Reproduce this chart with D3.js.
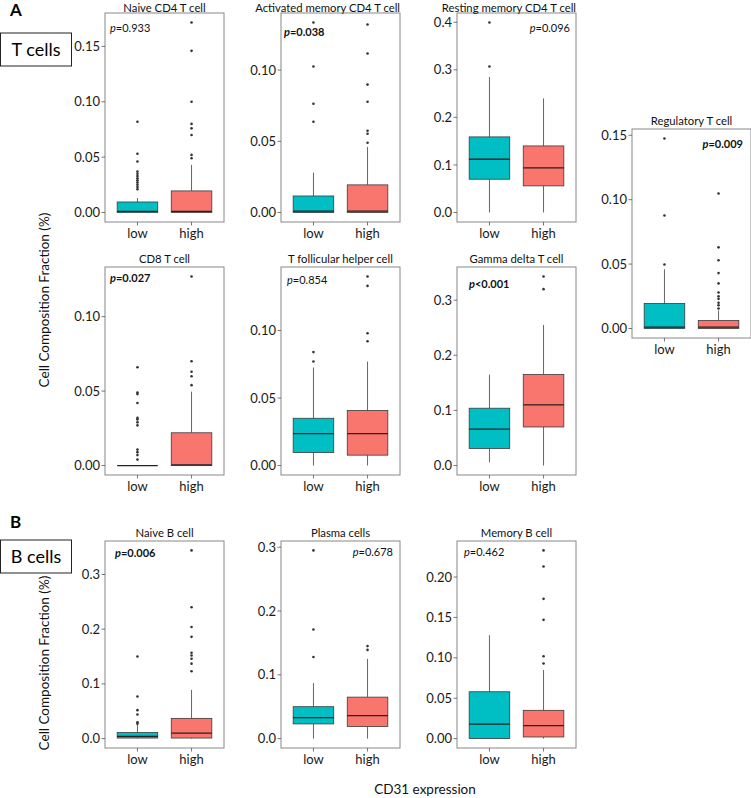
<!DOCTYPE html>
<html><head><meta charset="utf-8">
<script src="https://cdn.jsdelivr.net/npm/d3@7"></script>
<style>body{margin:0;background:#fff}svg{display:block}</style>
</head><body><svg id="c" width="751" height="798"></svg>
<script>
// ---------------- DATA ----------------
const panelTitles = ["Naive CD4 T cell","Activated memory CD4 T cell","Resting memory CD4 T cell","Regulatory T cell",
  "CD8 T cell","T follicular helper cell","Gamma delta T cell","Naive B cell","Plasma cells","Memory B cell"];
const groups = ["low","high"];
const pValues = ["=0.933","=0.038","=0.096","=0.009","=0.027","=0.854","<0.001","=0.006","=0.678","=0.462"];
const pSignificant = [false,true,false,true,true,false,true,true,false,false];
// box statistics: [whisker low, Q1, median, Q3, whisker high]
const lowBox = [
  [0,0,0.001,0.0095,0.013],
  [0,0,0.001,0.0116,0.028],
  [0,0.070,0.112,0.159,0.285],
  [0,0,0.001,0.0194,0.046],
  [0,0,0,0,0],
  [0,0.0096,0.0237,0.035,0.0726],
  [0.006,0.031,0.066,0.104,0.165],
  [0,0.001,0.004,0.011,0.026],
  [0,0.023,0.033,0.050,0.087],
  [0,0,0.018,0.058,0.128]
];
const highBox = [
  [0,0,0.001,0.0195,0.043],
  [0,0,0.001,0.0194,0.046],
  [0,0.056,0.094,0.140,0.240],
  [0,0,0.001,0.0062,0.014],
  [0,0,0.0005,0.022,0.0497],
  [0,0.0077,0.0237,0.0407,0.077],
  [0,0.070,0.110,0.165,0.255],
  [0,0.001,0.010,0.037,0.089],
  [0,0.019,0.036,0.065,0.125],
  [0,0.002,0.016,0.035,0.085]
];
const lowOutliers = [
  [0.082,0.053,0.046,0.037,0.035,0.033,0.031,0.029,0.027,0.025,0.023,0.021],
  [0.1334,0.1025,0.0764,0.0637],
  [0.3996,0.307],
  [0.1475,0.0877,0.0497],
  [0.066,0.049,0.048,0.042,0.032,0.031,0.029,0.027,0.0107,0.009,0.007,0.004],
  [0.084,0.077],
  [],
  [0.150,0.077,0.052,0.044,0.030,0.027],
  [0.295,0.171,0.128],
  []
];
const highOutliers = [
  [0.1716,0.146,0.100,0.080,0.076,0.070,0.052,0.049],
  [0.132,0.1116,0.0898,0.0778,0.0574,0.0553,0.049],
  [],
  [0.1048,0.063,0.053,0.043,0.035,0.028,0.025,0.023,0.020,0.018,0.0155],
  [0.127,0.070,0.063,0.060,0.054],
  [0.140,0.133,0.098,0.092],
  [0.343,0.320],
  [0.344,0.240,0.204,0.186,0.157,0.152,0.146,0.137,0.123],
  [0.145,0.139],
  [0.233,0.213,0.173,0.147,0.102,0.093]
];
const yTickValues = [
  [0,0.05,0.10,0.15],[0,0.05,0.10],[0,0.1,0.2,0.3,0.4],[0,0.05,0.10,0.15],
  [0,0.05,0.10],[0,0.05,0.10],[0,0.1,0.2,0.3],
  [0,0.1,0.2,0.3],[0,0.1,0.2,0.3],[0,0.05,0.10,0.15,0.20]
];
const yTickLabels = [
  ["0.00","0.05","0.10","0.15"],["0.00","0.05","0.10"],["0.0","0.1","0.2","0.3","0.4"],["0.00","0.05","0.10","0.15"],
  ["0.00","0.05","0.10"],["0.00","0.05","0.10"],["0.0","0.1","0.2","0.3"],
  ["0.0","0.1","0.2","0.3"],["0.0","0.1","0.2","0.3"],["0.00","0.05","0.10","0.15","0.20"]
];
const groupColors = ["#00BFC4","#F8766D"];

// ---------------- LAYOUT ----------------
const layout = [
  {x:105,y:13,h:209,pa:"start",px:5,py:19},
  {x:281,y:13,h:209,pa:"start",px:3,py:23},
  {x:457,y:13,h:209,pa:"end",px:-6,py:19},
  {x:632,y:129,h:209,pa:"end",px:-8,py:19},
  {x:105,y:267,h:208,pa:"start",px:5,py:15},
  {x:281,y:267,h:208,pa:"start",px:6,py:17},
  {x:457,y:267,h:208,pa:"start",px:12,py:21},
  {x:105,y:541,h:207,pa:"start",px:10,py:16},
  {x:281,y:541,h:207,pa:"end",px:-7,py:15},
  {x:457,y:541,h:207,pa:"start",px:7,py:15}
];
const PW = 119;
const FONT = "Lato, 'Open Sans', sans-serif";

const svg = d3.select("#c").style("font-family", FONT);

panelTitles.forEach((title, i) => {
  const L = layout[i];
  const g = svg.append("g").attr("transform", `translate(${L.x},${L.y})`);
  const all = [...lowBox[i], ...highBox[i], ...lowOutliers[i], ...highOutliers[i]];
  const mn = d3.min(all), mx = d3.max(all);
  const pad = (mx - mn) * 0.05;
  const y = d3.scaleLinear().domain([mn - pad, mx + pad]).range([L.h, 0]);
  // ggplot-like discrete expansion: positions 1 and 2 on [0.4, 2.6]
  const xc = d3.scaleLinear().domain([0.4, 2.6]).range([0, PW]);
  const bw = xc(1.375) - xc(1);

  g.append("rect").attr("width", PW).attr("height", L.h).attr("fill", "#fff");

  [lowBox[i], highBox[i]].forEach((s, k) => {
    const cx = xc(k + 1);
    g.append("line").attr("x1", cx).attr("x2", cx).attr("y1", y(s[0])).attr("y2", y(s[1]))
      .attr("stroke", "#666").attr("stroke-width", 1);
    g.append("line").attr("x1", cx).attr("x2", cx).attr("y1", y(s[3])).attr("y2", y(s[4]))
      .attr("stroke", "#666").attr("stroke-width", 1);
    g.append("rect").attr("x", cx - bw).attr("width", bw * 2)
      .attr("y", y(s[3])).attr("height", Math.max(0, y(s[1]) - y(s[3])))
      .attr("fill", groupColors[k]).attr("stroke", "#3a3a3a").attr("stroke-width", 0.8);
    g.append("line").attr("x1", cx - bw).attr("x2", cx + bw).attr("y1", y(s[2])).attr("y2", y(s[2]))
      .attr("stroke", "#222").attr("stroke-width", 1.3);
  });
  [lowOutliers[i], highOutliers[i]].forEach((arr, k) => {
    const cx = xc(k + 1);
    g.selectAll(null).data(arr).enter().append("circle")
      .attr("cx", cx).attr("cy", d => y(d)).attr("r", 1.3).attr("fill", "#333");
  });

  g.append("rect").attr("width", PW).attr("height", L.h).attr("fill", "none")
    .attr("stroke", "#888").attr("stroke-width", 1);

  yTickValues[i].forEach((v, t) => {
    g.append("line").attr("x1", -3.5).attr("x2", 0).attr("y1", y(v)).attr("y2", y(v))
      .attr("stroke", "#555").attr("stroke-width", 0.8);
    g.append("text").attr("x", -5).attr("y", y(v)).attr("dy", "0.35em")
      .attr("text-anchor", "end").attr("font-size", 13).attr("fill", "#1a1a1a")
      .text(yTickLabels[i][t]);
  });
  groups.forEach((gname, k) => {
    const cx = xc(k + 1);
    g.append("line").attr("x1", cx).attr("x2", cx).attr("y1", L.h).attr("y2", L.h + 3.5)
      .attr("stroke", "#555").attr("stroke-width", 0.8);
    g.append("text").attr("x", cx).attr("y", L.h + 16).attr("text-anchor", "middle")
      .attr("font-size", 13).attr("fill", "#1a1a1a").text(gname);
  });
  const tt = g.append("text").attr("x", PW / 2).attr("y", Math.max(-4, 11.5 - L.y)).attr("text-anchor", "middle")
    .attr("font-size", 11.3).attr("fill", "#111").text(title);
  const tw = tt.node().getComputedTextLength();
  if (tw > PW) tt.attr("x", PW - tw / 2);
  const pt = g.append("text").attr("x", L.pa === "start" ? L.px : PW + L.px).attr("y", L.py)
    .attr("text-anchor", L.pa).attr("font-size", 11).attr("fill", "#111")
    .attr("font-weight", pSignificant[i] ? "bold" : "normal");
  pt.append("tspan").attr("font-style", "italic").text("p");
  pt.append("tspan").text(pValues[i]);
});

svg.append("text").attr("x", 10).attr("y", 16).attr("font-size", 17).attr("font-weight", "bold").text("A");
svg.append("text").attr("x", 10).attr("y", 528).attr("font-size", 17).attr("font-weight", "bold").text("B");
[["T cells", 33], ["B cells", 540]].forEach(([t, yy]) => {
  svg.append("rect").attr("x", 0.5).attr("y", yy).attr("width", 71).attr("height", 33)
    .attr("fill", "#fff").attr("stroke", "#222").attr("stroke-width", 1);
  svg.append("text").attr("x", 36).attr("y", yy + 23).attr("text-anchor", "middle")
    .attr("font-size", 18).text(t);
});
[300, 663].forEach(cy => {
  svg.append("text").attr("transform", `translate(49,${cy}) rotate(-90)`)
    .attr("text-anchor", "middle").attr("font-size", 13.5).attr("fill", "#111")
    .text("Cell Composition Fraction (%)");
});
svg.append("text").attr("x", 425).attr("y", 794).attr("text-anchor", "middle")
  .attr("font-size", 13.5).attr("fill", "#111").text("CD31 expression");
</script></body></html>
